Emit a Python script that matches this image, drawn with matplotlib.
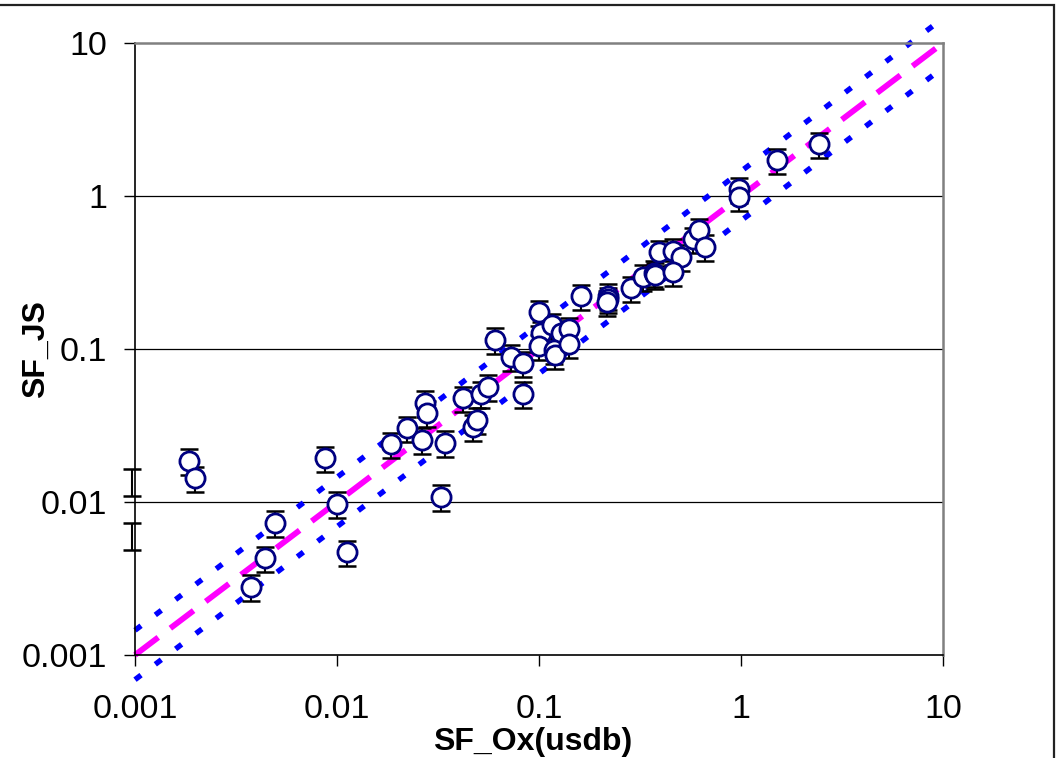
import numpy as np
import matplotlib
matplotlib.use('Agg')
import matplotlib.pyplot as plt
from matplotlib.patches import Rectangle
from matplotlib.ticker import NullLocator

plt.rcParams['font.family'] = ['Liberation Sans', 'DejaVu Sans']

# SF_Ox(usdb) vs SF_JS
sf_ox = [0.00186, 0.00198, 0.00374, 0.00440, 0.00493, 0.00872, 0.00997, 0.01117,
         0.0185, 0.0221, 0.0265, 0.0273, 0.0278, 0.0326, 0.0342, 0.0419,
         0.0470, 0.0492, 0.0514, 0.0559, 0.0605, 0.0724, 0.0830, 0.0836,
         0.1002, 0.1025, 0.1162, 0.1280, 0.1413, 0.1000, 0.1183, 0.1201,
         0.1413, 0.161, 0.2208, 0.2196, 0.2172, 0.2853, 0.3283, 0.3717,
         0.3751, 0.3926, 0.4624, 0.5035, 0.4606, 0.5754, 0.6217, 0.6636,
         0.981, 0.981, 1.502, 2.432]
sf_js = [0.01862, 0.01429, 0.00280, 0.00429, 0.00732, 0.0193, 0.00970, 0.00469,
         0.0238, 0.0303, 0.0254, 0.0446, 0.0383, 0.01083, 0.0244, 0.0476,
         0.0310, 0.0344, 0.0508, 0.0567, 0.1145, 0.0893, 0.0509, 0.0806,
         0.174, 0.1266, 0.1424, 0.1278, 0.1347, 0.1041, 0.0986, 0.0914,
         0.1078, 0.221, 0.222, 0.2107, 0.2014, 0.2493, 0.2969, 0.3148,
         0.3046, 0.4272, 0.4390, 0.4013, 0.3162, 0.5220, 0.5950, 0.4663,
         1.106, 0.9895, 1.711, 2.178]
rel_err = 0.19

# points with no SF_Ox value sit on the y axis (error bars only)
axis_js = [0.0136, 0.00605]

ratio = 1.45
line_x = [0.001, 10]
ticks = [0.001, 0.01, 0.1, 1, 10]
tick_labels = ['0.001', '0.01', '0.1', '1', '10']

fig = plt.figure(figsize=(10.58, 7.58), dpi=100)
ax = fig.add_axes([0.1276, 0.1359, 0.7637, 0.8074])
ax.set_xscale('log')
ax.set_yscale('log')
ax.set_xlim(0.001, 10)
ax.set_ylim(0.001, 10)

# reference lines: y = x and a factor band
ax.plot(line_x, line_x, color='#FF00FF', lw=4.2, ls=(0, (5, 2.6)),
        clip_on=False, zorder=2)
for f in (ratio, 1 / ratio):
    ax.plot(line_x, [v * f for v in line_x], color='#0000FF', lw=3.9,
            ls=(0, (1.4, 3.3)), clip_on=False, zorder=2)

js = np.array(sf_js)
ax.errorbar(sf_ox, sf_js, yerr=rel_err * js, fmt='none', ecolor='black',
            elinewidth=1.5, capsize=6.5, capthick=1.8, zorder=3)
ax.plot(sf_ox, sf_js, 'o', ms=13.8, mfc='white', mec='#000080', mew=2.0,
        zorder=4)
aj = np.array(axis_js)
ax.errorbar([0.00097] * len(aj), aj, yerr=0.2 * aj, fmt='none', ecolor='black',
            elinewidth=1.5, capsize=6.5, capthick=1.8, zorder=3, clip_on=False)

# horizontal gridlines at each decade
for g in (0.01, 0.1, 1):
    ax.axhline(g, color='black', lw=0.9, zorder=1)

ax.set_xticks(ticks)
ax.set_xticklabels(tick_labels)
ax.set_yticks(ticks)
ax.set_yticklabels(tick_labels)
ax.xaxis.set_minor_locator(NullLocator())
ax.yaxis.set_minor_locator(NullLocator())
ax.tick_params(axis='x', direction='out', length=8, width=1, pad=20, labelsize=24.5)
ax.tick_params(axis='y', direction='out', length=8, width=1, pad=12, labelsize=24.5)

for s in ('left', 'bottom'):
    ax.spines[s].set_color('black')
    ax.spines[s].set_linewidth(1.2)
for s in ('top', 'right'):
    ax.spines[s].set_color('#808080')
    ax.spines[s].set_linewidth(1.8)

ax.set_xlabel('SF_Ox(usdb)', fontsize=23, fontweight='bold')
ax.xaxis.set_label_coords(0.492, -0.117)
ax.set_ylabel('SF_JS', fontsize=23, fontweight='bold')
ax.yaxis.set_label_coords(-0.104, 0.5)

# outer frame of the chart
fig.patches.append(Rectangle((-0.01, -0.01), 1.0062, 1.0034, transform=fig.transFigure,
                             fill=False, ec='#222222', lw=1.6))

fig.savefig('out.png', dpi=100)
